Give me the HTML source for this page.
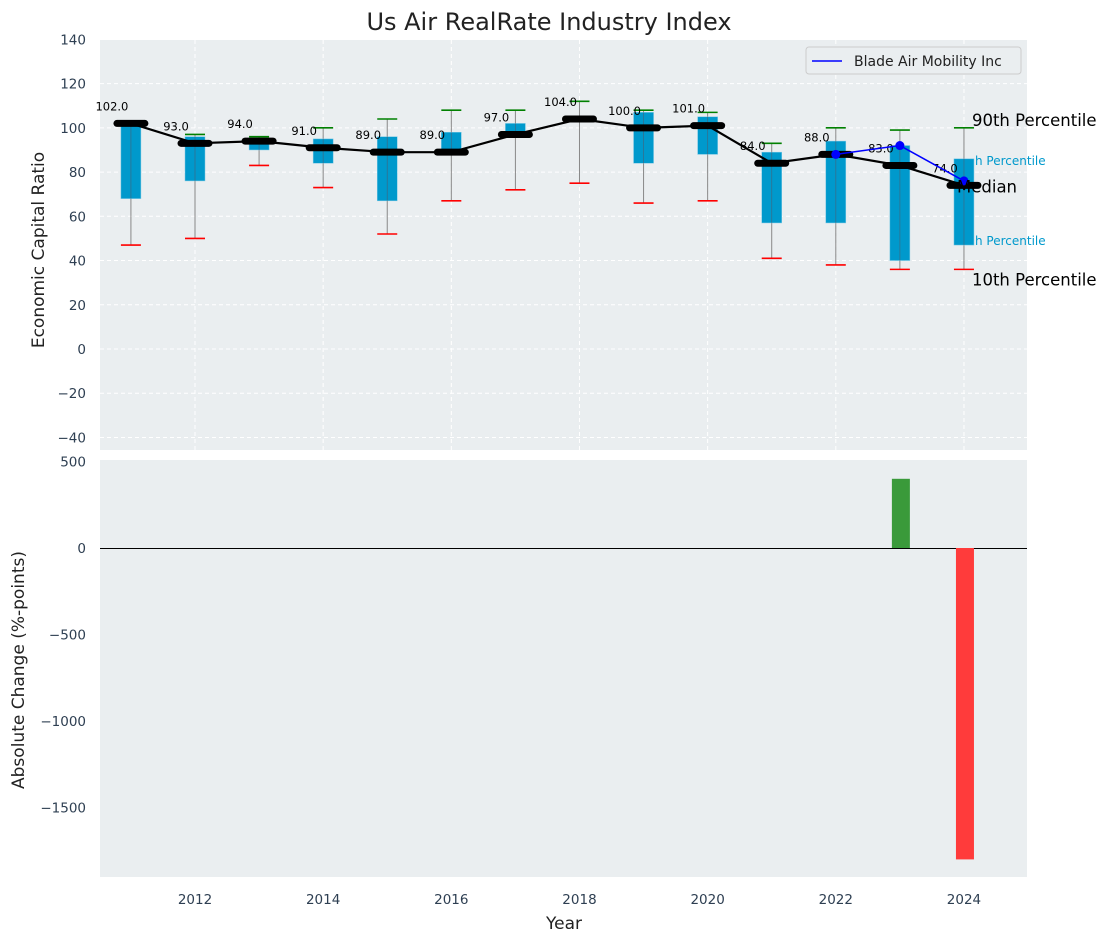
<!DOCTYPE html>
<html><head><meta charset="utf-8"><style>
body{margin:0;background:#fff;}
svg{display:block;font-family:"DejaVu Sans","Liberation Sans",sans-serif;}
</style></head><body>
<svg id="chart" width="1107" height="942"></svg>
<script>
const years=[2011,2012,2013,2014,2015,2016,2017,2018,2019,2020,2021,2022,2023,2024];
const medians=[102,93,94,91,89,89,97,104,100,101,84,88,83,74];
const q1=[68,76,90,84,67,89,97,104,84,88,57,57,40,47];
const q3=[102,96,94,95,96,98,102,104,107,105,89,94,92,86];
const p10=[47,50,83,73,52,67,72,75,66,67,41,38,36,36];
const p90=[102,97,96,100,104,108,108,112,108,107,93,100,99,100];
const bladeYears=[2022,2023,2024];
const bladeVals=[88,92,76];
const changeYears=[2023,2024];
const changeVals=[400,-1800];
const topTicks=[-40,-20,0,20,40,60,80,100,120,140];
const botTicks=[-1500,-1000,-500,0,500];
const xTicks=[2012,2014,2016,2018,2020,2022,2024];

const NS="http://www.w3.org/2000/svg";
const svg=document.getElementById('chart');
function el(tag,attrs,parent,text){const e=document.createElementNS(NS,tag);for(const k in attrs)e.setAttribute(k,attrs[k]);if(text!==undefined)e.textContent=text;(parent||svg).appendChild(e);return e;}
const X=y=>195+(y-2012)*64.08;
const Y1=v=>349-v*2.2115;
const Y2=v=>548-v*0.173;
const L=100,R=1027;

let p=el('rect',{x:L,y:40,width:R-L,height:410,fill:'#eaeef0'});


p=el('rect',{x:L,y:460,width:R-L,height:417,fill:'#eaeef0'});



xTicks.forEach(t=>{
  el('line',{x1:X(t),x2:X(t),y1:40,y2:450,stroke:'#fff','stroke-dasharray':'4,3','stroke-width':1});
  let l=el('text',{x:X(t),y:904,'font-size':13.5,fill:'#2e3f52','text-anchor':'middle'},svg,t);
  
  
});
topTicks.forEach(t=>{
  el('line',{x1:L,x2:R,y1:Y1(t),y2:Y1(t),stroke:'#fff','stroke-dasharray':'4,3','stroke-width':1});
  let l=el('text',{x:86,y:Y1(t)+5,'font-size':13.5,fill:'#2e3f52','text-anchor':'end'},svg,t<0?'\u2212'+(-t):t);
  
  
});
botTicks.forEach(t=>{
  let l=el('text',{x:86,y:Y2(t)+5,'font-size':13.5,fill:'#2e3f52','text-anchor':'end'},svg,t<0?'\u2212'+(-t):t);
  
  
});

years.forEach((yr,i)=>{
  const x=X(yr);
  let w=el('line',{x1:x,x2:x,y1:Y1(p90[i]),y2:Y1(p10[i]),stroke:'#888','stroke-width':1});
  
  
  let b=el('rect',{x:x-10,y:Y1(q3[i]),width:20,height:Math.max(1,Y1(q1[i])-Y1(q3[i])),fill:'#0099cc',stroke:'#7cc8e4','stroke-width':0.5});
  
  
  el('line',{x1:x,x2:x,y1:Y1(q3[i]),y2:Y1(q1[i]),stroke:'#556','stroke-width':0.8,opacity:0.6});
  let g=el('line',{x1:x-10,x2:x+10,y1:Y1(p90[i]),y2:Y1(p90[i]),stroke:'green','stroke-width':1.6});
  
  
  let r=el('line',{x1:x-10,x2:x+10,y1:Y1(p10[i]),y2:Y1(p10[i]),stroke:'red','stroke-width':1.6});
  
  
});
let ml=el('polyline',{points:years.map((y,i)=>X(y)+','+Y1(medians[i])).join(' '),fill:'none',stroke:'#000','stroke-width':2.2});


years.forEach((yr,i)=>{
  const x=X(yr),y=Y1(medians[i]);
  let m=el('line',{x1:x-14,x2:x+14,y1:y,y2:y,stroke:'#000','stroke-width':7,'stroke-linecap':'round'});
  
  
  let t=el('text',{x:x-19,y:y-13,'font-size':11.5,fill:'#000','text-anchor':'middle'},svg,medians[i].toFixed(1));
  
  
});
let bl=el('polyline',{points:bladeYears.map((y,i)=>X(y)+','+Y1(bladeVals[i])).join(' '),fill:'none',stroke:'#0000ff','stroke-width':1.5});


bladeYears.forEach((yr,i)=>{
  let c=el('circle',{cx:X(yr),cy:Y1(bladeVals[i]),r:4.5,fill:'#0000ff'});
  
  
});
const ax=X(2024)+8;
[['90th Percentile',Y1(p90[13])-2,16.5,'#000',ax],['h Percentile',Y1(q3[13])+6,12,'#0099cc',975],['Median',Y1(medians[13])+7,16.5,'#000',957],['h Percentile',Y1(q1[13])+0,12,'#0099cc',975],['10th Percentile',Y1(p10[13])+16,16.5,'#000',ax]].forEach(a=>{
  let t=el('text',{x:a[4],y:a[1],'font-size':a[2],fill:a[3]},svg,a[0]);
  
  
});
let lg=el('g',{});


el('rect',{x:806,y:47,width:215,height:27,rx:3,fill:'#eaeef0',stroke:'#ccc'},lg);
el('line',{x1:812,x2:842,y1:61,y2:61,stroke:'#0000ff','stroke-width':1.5},lg);
let lt=el('text',{x:854,y:66,'font-size':14,fill:'#222'},lg,'Blade Air Mobility Inc');



let zl=el('line',{x1:L,x2:R,y1:Y2(0)+0.5,y2:Y2(0)+0.5,stroke:'#000','stroke-width':1});


changeYears.forEach((yr,i)=>{
  const v=changeVals[i];
  let b=el('rect',{x:X(yr)-8,y:Math.min(Y2(v),Y2(0)),width:18,height:Math.abs(Y2(v)-Y2(0)),fill:v>=0?'#3a9a3a':'#ff3b3b'});
  
  
});

let tt=el('text',{x:549,y:30,'font-size':24,fill:'#222','text-anchor':'middle'},svg,'Us Air RealRate Industry Index');


let xt=el('text',{x:564,y:929,'font-size':17,fill:'#222','text-anchor':'middle'},svg,'Year');


let y1t=el('text',{x:0,y:0,'font-size':17,fill:'#222','text-anchor':'middle',transform:'translate(44,250) rotate(-90)'},svg,'Economic Capital Ratio');


let y2t=el('text',{x:0,y:0,'font-size':17,fill:'#222','text-anchor':'middle',transform:'translate(24,670) rotate(-90)'},svg,'Absolute Change (%-points)');


</script>
</body></html>
